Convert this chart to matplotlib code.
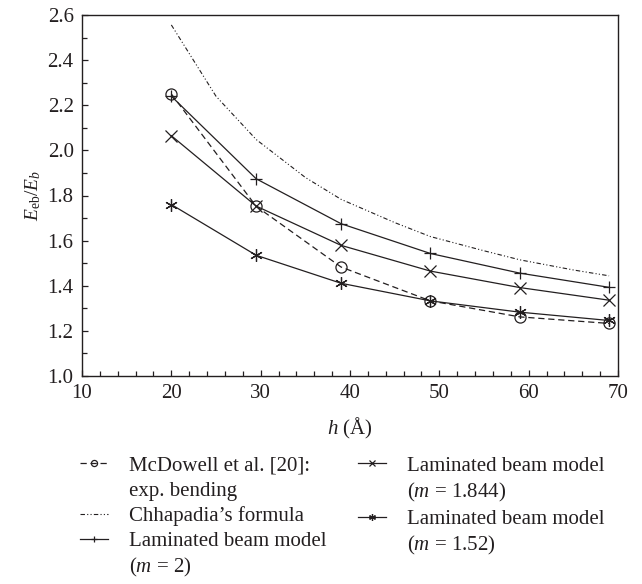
import matplotlib
matplotlib.use("Agg")
import matplotlib.pyplot as plt
from matplotlib.lines import Line2D
from matplotlib.ticker import MultipleLocator, FormatStrFormatter

plt.rcParams['font.family'] = ['Liberation Serif', 'DejaVu Serif']
plt.rcParams['mathtext.fontset'] = 'custom'
plt.rcParams['mathtext.rm'] = 'Liberation Serif'
plt.rcParams['mathtext.it'] = 'Liberation Serif:italic'

ink = '#231f20'

# thickness h (angstrom) where the models / experiment are sampled
h = [20, 29.5, 39, 49, 59, 69]
mcdowell = [2.25, 1.752, 1.483, 1.333, 1.262, 1.233]
lam_m2 = [2.24, 1.874, 1.675, 1.543, 1.456, 1.393]
lam_m1844 = [2.065, 1.753, 1.579, 1.465, 1.392, 1.336]
lam_m152 = [1.76, 1.535, 1.411, 1.333, 1.283, 1.246]

# Chhapadia's formula
h_ch = [20, 25, 29.5, 35, 39, 45, 49, 55, 59, 65, 69]
chhapadia = [2.556, 2.24, 2.048, 1.88, 1.783, 1.68, 1.618, 1.555, 1.515, 1.47, 1.444]

fig = plt.figure(figsize=(6.42, 5.84), dpi=100)
ax = fig.add_axes([82/642, 1 - 376/584, 536/642, 361/584])

lw = 0.9
ms = 8
l_mc, = ax.plot(h, mcdowell, color=ink, lw=lw, ls=(0, (5, 3)), marker='o', ms=ms,
                mfc='none', mew=0.9)
l_ch, = ax.plot(h_ch, chhapadia, color=ink, lw=0.8, ls=(0, (4, 2, 1, 2, 1, 2)))
l_2, = ax.plot(h, lam_m2, color=ink, lw=lw, marker='+', ms=ms + 1, mew=0.9)
l_1844, = ax.plot(h, lam_m1844, color=ink, lw=lw, marker='x', ms=ms, mew=0.9)
l_152, = ax.plot(h, lam_m152, color=ink, lw=lw, marker=(6, 2, 0), ms=ms + 1, mew=0.9)

ax.set_xlim(10, 70)
ax.set_ylim(1.0, 2.6)
ax.xaxis.set_major_locator(MultipleLocator(10))
ax.xaxis.set_minor_locator(MultipleLocator(2))
ax.yaxis.set_major_locator(MultipleLocator(0.2))
ax.yaxis.set_minor_locator(MultipleLocator(0.1))
ax.yaxis.set_major_formatter(FormatStrFormatter('%.1f'))
ax.tick_params(which='both', direction='in', top=False, right=False,
               colors=ink, labelsize=15, width=0.9, pad=6)
ax.tick_params(which='major', length=4)
ax.tick_params(which='minor', length=3.5)
for s in ax.spines.values():
    s.set_color(ink)
    s.set_linewidth(1.0)

ax.set_xlabel('$h$ (Å)', fontsize=15, color=ink, labelpad=9)
ax.set_ylabel('$E_{\\mathrm{eb}}/E_b$', fontsize=14, color=ink, labelpad=3)

# second lines of the labels go in as entries with no handle
blank = Line2D([], [], color='none')
handles = [l_mc, blank, l_ch, l_2, blank, l_1844, blank, l_152, blank]
labels = ['McDowell et al. [20]:', 'exp. bending', 'Chhapadia\u2019s formula',
          'Laminated beam model', '($m$ = 2)',
          'Laminated beam model', '($m$ = 1.844)',
          'Laminated beam model', '($m$ = 1.52)']
fig.legend(handles, labels, loc='upper left', bbox_to_anchor=(80/642, 1 - 456/584),
           ncol=2, frameon=False, fontsize=15, handlelength=1.35, handletextpad=1.0,
           columnspacing=1.5, borderpad=0, borderaxespad=0, labelspacing=0.26,
           markerscale=0.55, labelcolor=ink)

fig.savefig('out.png', dpi=100)
